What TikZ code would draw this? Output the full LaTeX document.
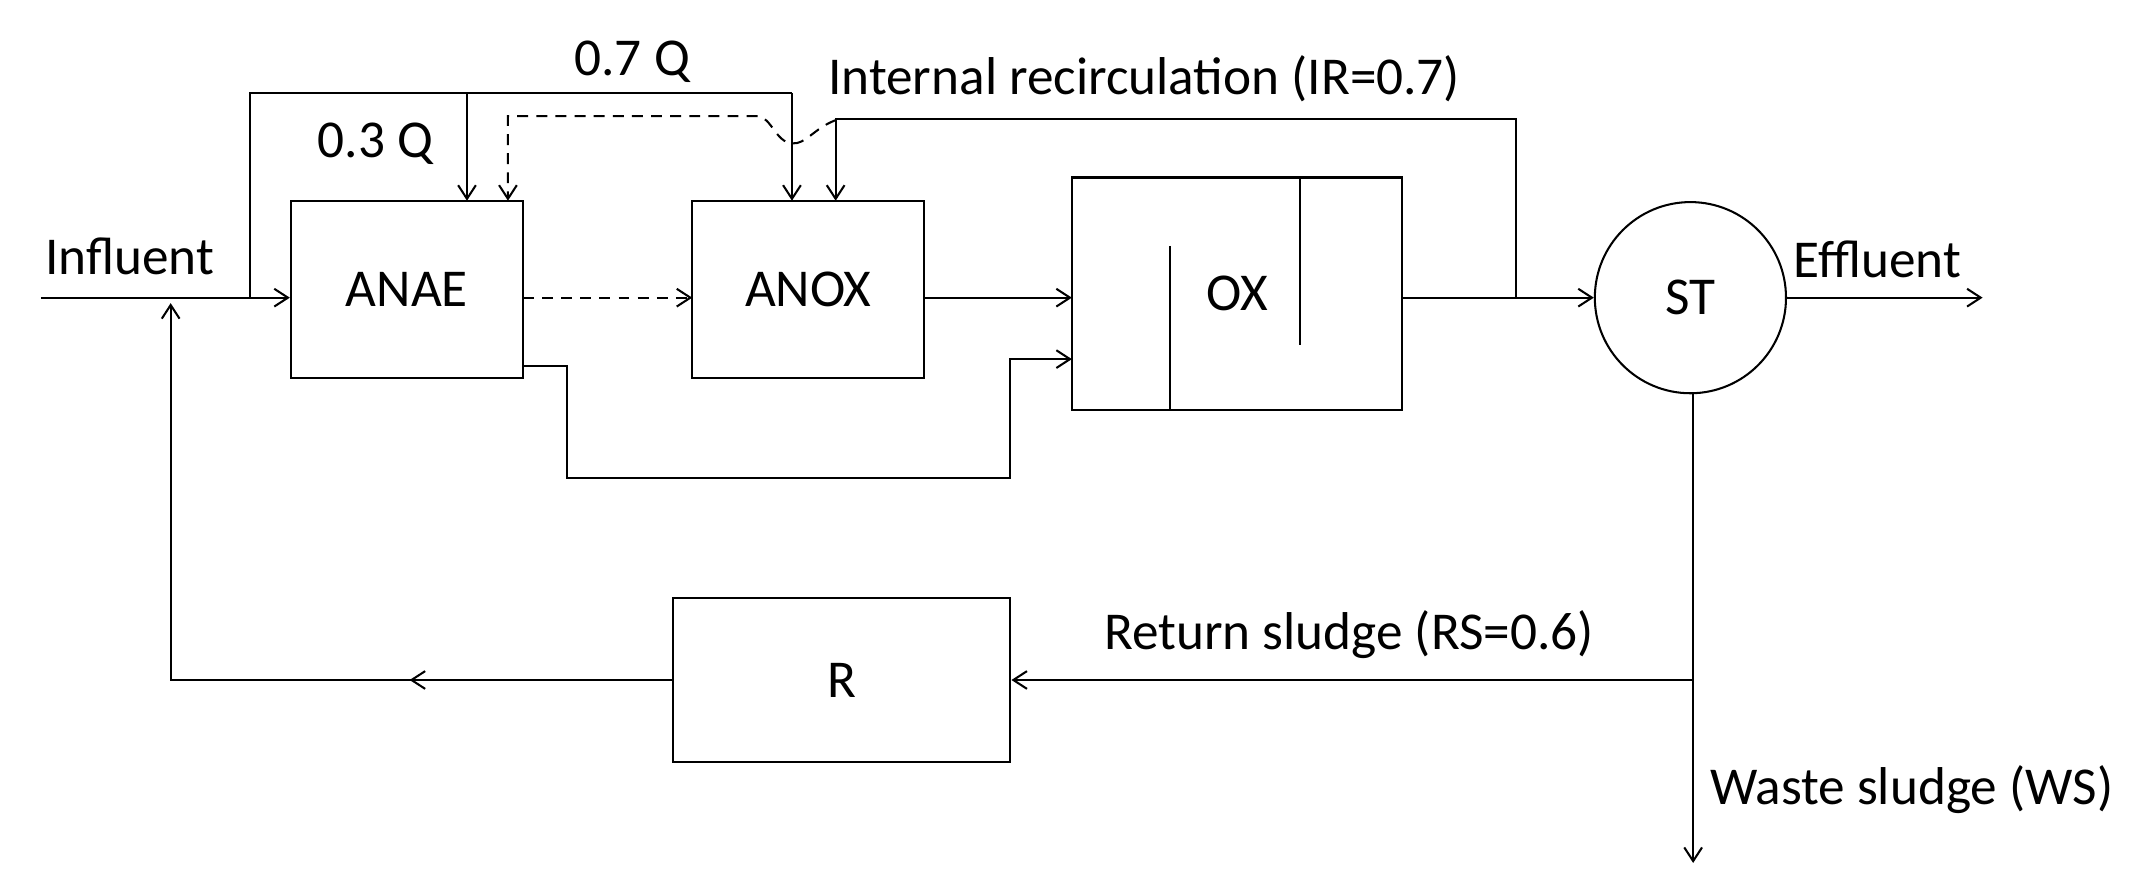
\documentclass[tikz,border=0pt]{standalone}
\usepackage{fontspec}
\setmainfont{Carlito}
\usetikzlibrary{arrows.meta}
\begin{document}
\begin{tikzpicture}[x=1pt,y=-1pt,
  box/.style={draw,line width=1.5pt,inner sep=0pt},
  ln/.style={line width=1.5pt,-{Straight Barb[length=10pt,width=13pt]}},
  pl/.style={line width=1.5pt},
  dsh/.style={dash pattern=on 8pt off 6pt},
  lbl/.style={font=\fontsize{39}{44}\selectfont,inner sep=0pt}]
\useasboundingbox (0,0) rectangle (1568,646);
\node[box,minimum width=170pt,minimum height=130pt] (anae) at (298,212) {};
\node[lbl] at (anae) {ANAE};
\node[box,minimum width=170pt,minimum height=130pt] (anox) at (592,212) {};
\node[lbl] at (anox) {ANOX};
\node[box,minimum width=242pt,minimum height=170pt] (ox) at (906,215) {};
\node[lbl] at (906,215) {OX};
\draw[pl] (857,180) -- (857,300) (952,130) -- (952,253);
\node[draw,circle,line width=1.5pt,minimum size=140pt,inner sep=0pt] (st) at (1238,218) {};
\node[lbl] at (st) {ST};
\node[box,minimum width=247pt,minimum height=120pt] (r) at (616.5,498) {};
\node[lbl] at (r) {R};
\coordinate (in) at (30,218);
\coordinate (ef) at (1452,218);
\coordinate (ws) at (1240,632);
% influent
\draw[ln] (in) -- (anae.west |- 0,218);
\node[lbl] at (95,188) {Influent};
\draw[pl] (183,218) -- (183,68) -- (580,68);
\draw[ln] (342,68) -- (342,147);
\draw[ln] (580,68) -- (580,147);
\node[lbl] at (463,45) {0.7 Q};
\node[lbl] at (275,105) {0.3 Q};
% dashed
\draw[ln,dsh] (383,218) -- (507,218);
\draw[ln,dsh] (612,88) .. controls (596,94) and (590,106) .. (580,105) .. controls (568,104) and (565,86) .. (555,85) -- (372,85) -- (372,147);
% anox to ox
\draw[ln] (677,218) -- (785,218);
\draw[ln] (383,268) -- (415,268) -- (415,350) -- (740,350) -- (740,263) -- (785,263);
% ox to st
\draw[ln] (1027,218) -- (st.west);
\draw[ln] (1110,218) -- (1110,87) -- (612,87) -- (612,147);
\node[lbl] at (838,58) {Internal recirculation (IR=0.7)};
\draw[ln] (st.east) -- (ef);
\node[lbl] at (1375,190) {Effluent};
\draw[ln] (1240,288) -- (ws);
\draw[ln] (1240,498) -- (r.east);
\node[lbl] at (988,465) {Return sludge (RS=0.6)};
\node[lbl] at (1400,578) {Waste sludge (WS)};
\draw[ln] (r.west) -- (300,498);
\draw[ln] (305,498) -- (125,498) -- (125,222);
\end{tikzpicture}
\end{document}
